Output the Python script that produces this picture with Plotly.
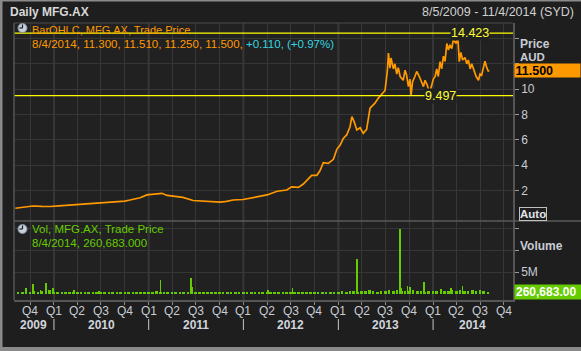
import plotly.graph_objects as go
import pandas as pd

# ---------------- data ----------------
price_dates = [
    "2009-08-05", "2009-09-10", "2009-10-12", "2009-11-15", "2009-12-17", "2010-01-20",
    "2010-02-20", "2010-03-25", "2010-04-23", "2010-05-25", "2010-06-27", "2010-07-30",
    "2010-09-01", "2010-10-01", "2010-10-21", "2010-11-10", "2010-11-29", "2010-12-25",
    "2011-01-25", "2011-02-21", "2011-03-13", "2011-04-12", "2011-05-13", "2011-06-21",
    "2011-07-15", "2011-08-14", "2011-09-10", "2011-10-03", "2011-10-28", "2011-11-22",
    "2011-12-31", "2012-02-07", "2012-03-05", "2012-04-01", "2012-05-10", "2012-06-16",
    "2012-07-05", "2012-07-31", "2012-08-19", "2012-09-07", "2012-09-20", "2012-10-10",
    "2012-10-22", "2012-11-04", "2012-11-23", "2012-12-13", "2012-12-26", "2013-01-08",
    "2013-01-20", "2013-02-02", "2013-02-15", "2013-02-22", "2013-03-03", "2013-03-13",
    "2013-03-26", "2013-04-07", "2013-04-20",
    "2013-05-03", "2013-05-22", "2013-06-04", "2013-06-17", "2013-06-30", "2013-07-09",
    "2013-07-13", "2013-07-19", "2013-07-23", "2013-08-01", "2013-08-07", "2013-08-14",
    "2013-08-20", "2013-08-27", "2013-09-08", "2013-09-15", "2013-09-21", "2013-09-28",
    "2013-10-04", "2013-10-08", "2013-10-14", "2013-10-23", "2013-10-30", "2013-11-09",
    "2013-11-18", "2013-11-25", "2013-12-01", "2013-12-10", "2013-12-18", "2013-12-27",
    "2014-01-02", "2014-01-09", "2014-01-15", "2014-01-21", "2014-01-28", "2014-02-03",
    "2014-02-10", "2014-02-16", "2014-02-23", "2014-03-01", "2014-03-07", "2014-03-14",
    "2014-03-20", "2014-03-31", "2014-04-05", "2014-04-09", "2014-04-12", "2014-04-18",
    "2014-04-25", "2014-05-04", "2014-05-11", "2014-05-17", "2014-05-24", "2014-05-30",
    "2014-06-08", "2014-06-16", "2014-06-25", "2014-07-01", "2014-07-07", "2014-07-14",
    "2014-07-20", "2014-07-27", "2014-08-02", "2014-08-04",
]
price_values = [
    0.61, 0.72, 0.79, 0.76, 0.75, 0.80,
    0.84, 0.88, 0.95, 0.97, 1.00, 1.05,
    1.13, 1.18, 1.26, 1.33, 1.44, 1.66,
    1.72, 1.79, 1.62, 1.55, 1.47, 1.22,
    1.18, 1.13, 1.08, 1.10, 1.15, 1.26,
    1.30, 1.47, 1.55, 1.66, 1.95, 2.05,
    2.30, 2.26, 2.52, 2.89, 3.20, 3.21,
    3.57, 4.20, 4.15, 4.47, 5.26, 5.60,
    6.12, 6.39, 7.04, 7.83, 7.43, 6.78,
    6.96, 6.52, 6.83,
    8.50, 8.90, 9.30, 9.60, 9.90, 11.50,
    12.85, 11.65, 12.46, 11.60, 12.00, 11.20,
    11.70, 11.00, 10.70, 11.50, 11.10, 10.20,
    10.80, 9.50, 10.60, 11.00, 11.40, 11.00,
    10.60, 10.20, 10.70, 10.30, 9.65, 10.30,
    10.80, 11.00, 11.60, 11.00, 12.17, 11.60,
    12.60, 12.20, 13.60, 13.10, 13.50, 13.20,
    13.90, 13.60, 14.42, 13.20, 12.17, 12.90,
    12.30, 12.50, 12.00, 12.30, 11.60, 12.00,
    11.40, 11.00, 10.70, 11.20, 11.10, 11.60,
    12.20, 11.70, 11.40, 11.50,
]

# base volume (millions), semi-monthly (1st / 15th) from 2009-08-15 to 2014-08-01
vol_base_values = [
    0.4,
    0.5, 0.6, 0.4, 0.7, 0.5, 0.6, 0.5, 0.8,
    0.4, 0.3, 0.3, 0.3, 0.3, 0.4, 0.3, 0.3, 0.3, 0.3, 0.3, 0.5,
    0.3, 0.3, 0.3, 0.3, 0.4, 0.3, 0.3, 0.3, 0.3, 0.3, 0.3, 0.4,
    0.3, 0.3, 0.6, 0.3, 0.3, 0.3, 0.3, 0.3, 0.3, 0.3, 0.4, 0.3,
    0.3, 0.3, 0.3, 0.3, 0.3, 0.3, 0.3, 0.3, 0.3, 0.3, 0.3, 0.3,
    0.3, 0.3, 0.3, 0.3, 0.3, 0.3, 0.4, 0.3, 0.3, 0.3, 0.4, 0.3,
    0.3, 0.3, 0.4, 0.3, 0.4, 0.4, 0.4, 0.5, 0.4, 0.5, 0.4, 0.5,
    0.5, 0.6, 0.5, 0.7, 0.6, 0.5, 0.6, 0.7, 0.8, 0.6, 0.5, 0.7,
    0.6, 0.8, 0.7, 0.9, 0.6, 0.7, 0.6, 0.8, 0.7, 0.6, 0.5, 0.6,
    0.7, 0.6, 0.8, 0.7, 0.6, 0.8, 0.7, 0.9, 0.7, 0.6, 0.8, 0.7, 0.8, 0.7,
    0.5,
]
vol_spike_dates = [
    "2009-09-14", "2009-10-13", "2009-11-10", "2009-12-02", "2009-12-28", "2010-03-20",
    "2010-06-25", "2011-02-16", "2011-06-14", "2011-06-17", "2012-04-05", "2012-07-08",
    "2013-03-12", "2013-03-15", "2013-08-26", "2013-08-29", "2013-09-24", "2013-10-05",
    "2013-11-27", "2014-01-31", "2014-03-10", "2014-04-24",
]
vol_spike_values = [
    1.3, 2.2, 0.9, 2.4, 1.4, 0.8,
    0.7, 3.2, 3.7, 1.7, 0.9, 1.4,
    1.7, 8.0, 14.8, 1.4, 1.8, 1.5,
    2.7, 1.2, 1.3, 1.8,
]

quarter_ticks = [
    "2009-10-01",
    "2010-01-01", "2010-04-01", "2010-07-01", "2010-10-01",
    "2011-01-01", "2011-04-01", "2011-07-01", "2011-10-01",
    "2012-01-01", "2012-04-01", "2012-07-01", "2012-10-01",
    "2013-01-01", "2013-04-01", "2013-07-01", "2013-10-01",
    "2014-01-01", "2014-04-01", "2014-07-01", "2014-10-01",
]
quarter_labels = ["Q4"] + ["Q1", "Q2", "Q3", "Q4"] * 5
year_labels = ["2009", "2010", "2011", "2012", "2013", "2014"]
year_label_pos = ["2009-10-16", "2010-07-02", "2011-07-02", "2012-07-02", "2013-07-02", "2014-06-03"]
year_starts = ["2010-01-01", "2011-01-01", "2012-01-01", "2013-01-01", "2014-01-01"]

price_high = 14.423
price_low = 9.497
last_price = 11.500
last_volume = 0.260683

price_ticks = [2, 4, 6, 8, 10, 12, 14]
price_ticktext = ["2", "4", "6", "8", "10", "", ""]

# ---------------- styling helpers ----------------
W, H = 581, 351
L, R, T, B = 14, 513, 23, 300
def fx(px):
    return (px - L) / (R - L)
def fy(py):
    return (B - py) / (B - T)

ORANGE = "#ff9900"
GREEN = "#66cc00"
YELLOW = "#ffff00"
GRID = "#363636"
AXC = "#c8ccd4"
FONT = "Liberation Sans"

vol_base_dates = pd.date_range("2009-08-15", "2014-08-01", freq="SMS")

fig = go.Figure()
fig.add_trace(go.Scatter(x=pd.to_datetime(price_dates), y=price_values, mode="lines",
                         line=dict(color=ORANGE, width=1.7), xaxis="x", yaxis="y",
                         hoverinfo="skip"))
fig.add_trace(go.Bar(x=vol_base_dates, y=vol_base_values, marker_color=GREEN,
                     marker_line_width=0, width=10 * 86400000, xaxis="x", yaxis="y2",
                     hoverinfo="skip"))
fig.add_trace(go.Bar(x=pd.to_datetime(vol_spike_dates), y=vol_spike_values, marker_color=GREEN,
                     marker_line_width=0, width=3 * 86400000, xaxis="x", yaxis="y2",
                     hoverinfo="skip"))

shapes = []
for v in (price_high, price_low):
    shapes.append(dict(type="line", xref="paper", yref="y", x0=0, x1=1, y0=v, y1=v,
                       line=dict(color=YELLOW, width=1.2), layer="above"))
for d in year_starts:
    shapes.append(dict(type="line", xref="x", yref="paper", x0=d, x1=d,
                       y0=fy(319), y1=fy(330), line=dict(color="#c8c8c8", width=1)))
    shapes.append(dict(type="line", xref="x", yref="paper", x0=d, x1=d,
                       y0=0, y1=1, line=dict(color="#3a3a3a", width=2), layer="below"))
shapes.append(dict(type="line", xref="paper", yref="paper", x0=0, x1=fx(W), y0=fy(221), y1=fy(221),
                   line=dict(color="#5a5a5a", width=1.5)))
shapes.append(dict(type="line", xref="paper", yref="paper", x0=0, x1=0, y0=0, y1=1,
                   line=dict(color="#555555", width=1.5)))
shapes.append(dict(type="line", xref="paper", yref="paper", x0=0, x1=1, y0=1, y1=1,
                   line=dict(color="#4a4a4a", width=1)))
shapes.append(dict(type="rect", xref="paper", yref="paper", x0=fx(0), x1=fx(2.5), y0=fy(351), y1=fy(1),
                   fillcolor="#8a8a8a", line_width=0))
shapes.append(dict(type="rect", xref="paper", yref="paper", x0=fx(0), x1=fx(581), y0=fy(1.5), y1=fy(0),
                   fillcolor="#8a8a8a", line_width=0))
shapes.append(dict(type="rect", xref="paper", yref="paper", x0=fx(0), x1=fx(581), y0=fy(351), y1=fy(347),
                   fillcolor="#8a8a8a", line_width=0))
for cy in (28, 229):
    shapes.append(dict(type="circle", xref="paper", yref="paper", x0=fx(18), x1=fx(27),
                       y0=fy(cy + 4.5), y1=fy(cy - 4.5), fillcolor="#c8d0dc",
                       line=dict(color="#8090a0", width=1)))
    shapes.append(dict(type="line", xref="paper", yref="paper", x0=fx(22.5), x1=fx(22.5),
                       y0=fy(cy), y1=fy(cy - 3.5), line=dict(color="#202020", width=1.2)))
    shapes.append(dict(type="line", xref="paper", yref="paper", x0=fx(22.5), x1=fx(19.5),
                       y0=fy(cy), y1=fy(cy), line=dict(color="#202020", width=1.2)))

ann = []
def text(x, y, s, color, size=11, bold=False, xanchor="left", **kw):
    if bold:
        s = "<b>" + s + "</b>"
    ann.append(dict(xref="paper", yref="paper", x=fx(x), y=fy(y), text=s, showarrow=False,
                    xanchor=xanchor, yanchor="middle", font=dict(color=color, size=size, family=FONT),
                    **kw))

text(8, 12, "Daily MFG.AX", "#d8d8d8", size=12, bold=True)
text(576, 12, "8/5/2009 - 11/4/2014 (SYD)", "#d0d0d0", size=12.5, xanchor="right")
text(30, 30, "BarOHLC, MFG.AX, Trade Price", ORANGE, size=11)
text(30, 44, "8/4/2014, 11.300, 11.510, 11.250, 11.500, "
     "<span style='color:#33d6e0'>+0.110, (+0.97%)</span>", ORANGE, size=11.5)
text(30, 229, "Vol, MFG.AX, Trade Price", GREEN, size=11.5)
text(30, 243, "8/4/2014, 260,683.000", GREEN, size=11.5)
text(518, 43.5, "Price", AXC, size=12, bold=True)
text(518, 56.5, "AUD", AXC, size=11.5, bold=True)
text(518, 246, "Volume", AXC, size=12, bold=True)
text(519, 214, "Auto", "#e0e4ea", size=11.5, bold=True, bordercolor="#c0c0c0", borderwidth=1,
     borderpad=0)
ann.append(dict(xref="paper", yref="y", x=fx(514), y=last_price, text="<b>%.3f</b>" % last_price,
                showarrow=False, xanchor="left", yanchor="middle", bgcolor=ORANGE, width=64,
                height=12, borderpad=0.5, align="left",
                font=dict(color="#000000", size=12.5, family=FONT)))
ann.append(dict(xref="paper", yref="paper", x=fx(514), y=fy(292), text="<b>{:,.2f}</b>".format(last_volume * 1e6),
                showarrow=False, xanchor="left", yanchor="middle", bgcolor=GREEN, width=64,
                height=12, align="left", font=dict(color="#ffffff", size=12, family=FONT)))
for v, d in ((price_high, "2014-05-24"), (price_low, "2014-01-28")):
    ann.append(dict(xref="x", yref="y", x=d, y=v, text="%.3f" % v, showarrow=False,
                    xanchor="center", yanchor="middle", bgcolor="#212121", borderpad=0,
                    font=dict(color="#ffff33", size=12.5, family=FONT)))
for lab, d in zip(quarter_labels, quarter_ticks):
    ann.append(dict(xref="x", yref="paper", x=d, y=fy(311), text=lab, showarrow=False,
                    xanchor="center", yanchor="middle",
                    font=dict(color="#c8ccd4", size=12, family=FONT)))
for lab, d in zip(year_labels, year_label_pos):
    ann.append(dict(xref="x", yref="paper", x=d, y=fy(325), text="<b>" + lab + "</b>",
                    showarrow=False, xanchor="center", yanchor="middle",
                    font=dict(color="#d0d4dc", size=12, family=FONT)))

fig.update_layout(
    width=W, height=H,
    margin=dict(l=L, r=W - R, t=T, b=H - B),
    paper_bgcolor="#1e1e1e",
    plot_bgcolor="#212121",
    showlegend=False,
    bargap=0,
    barmode="overlay",
    shapes=shapes,
    annotations=ann,
    font=dict(family=FONT, color=AXC, size=11),
    xaxis=dict(
        type="date", range=["2009-07-31", "2014-11-05"], anchor="y2",
        tickvals=pd.to_datetime(quarter_ticks), ticktext=quarter_labels,
        showticklabels=False,
        ticks="outside", ticklen=3, tickcolor="#8a8a8a",
        showgrid=True, gridcolor=GRID, gridwidth=1,
        showline=True, linecolor="#555555", linewidth=1.5, zeroline=False,
    ),
    yaxis=dict(
        domain=[fy(221), 1], range=[(216 - 221) / 12.68, (216 - T) / 12.68],
        side="right", anchor="x", tickvals=price_ticks, ticktext=price_ticktext,
        ticks="outside", ticklen=4, tickcolor="#9a9a9a",
        tickfont=dict(size=12, color=AXC, family=FONT),
        showgrid=True, gridcolor=GRID, zeroline=False,
        showline=True, linecolor="#555555", linewidth=1.5,
    ),
    yaxis2=dict(
        domain=[0, fy(221)], range=[-(300 - 294) / 4.4, (294 - 221) / 4.4],
        side="right", anchor="x", tickvals=[5, 10, 15], ticktext=["5M", "", ""],
        ticks="outside", ticklen=4, tickcolor="#9a9a9a",
        tickfont=dict(size=12, color=AXC, family=FONT),
        showgrid=True, gridcolor=GRID, zeroline=False,
        showline=True, linecolor="#555555", linewidth=1.5,
    ),
)

fig.write_html("out.html")
